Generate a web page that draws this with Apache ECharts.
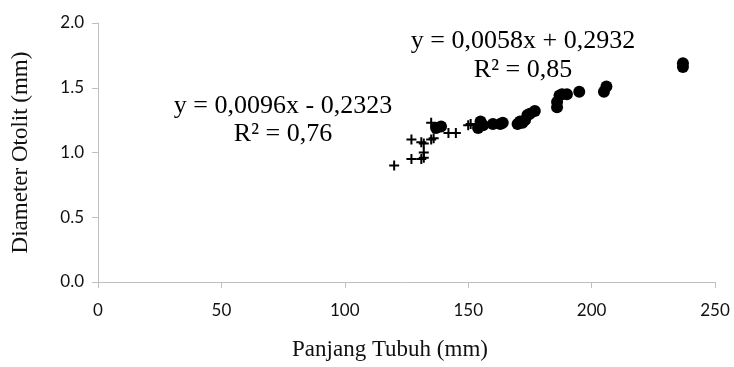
<!DOCTYPE html>
<html lang="id">
<head>
    <meta charset="UTF-8">
    <title>Panjang Tubuh vs Diameter Otolit</title>
    <style>
        html, body { margin: 0; padding: 0; background: #fff; }
        #chart { width: 734px; height: 367px; }
    </style>
</head>
<body>
<div id="chart"></div>
<script src="https://cdn.jsdelivr.net/npm/echarts@6/dist/echarts.min.js"></script>
<script>
    // ikan kecil (tanda +)
    var plusX = [120, 127, 127, 131, 132, 132, 132, 131, 135, 136, 135, 142, 145, 150, 151];
    var plusY = [0.90, 0.95, 1.10, 0.95, 0.96, 1.00, 1.07, 1.08, 1.10, 1.11, 1.23, 1.15, 1.15, 1.21, 1.22];

    // ikan besar (titik bulat)
    var circleX = [137, 139, 154, 155, 156, 160, 163, 164, 170, 171, 172, 173, 174, 175, 177, 186, 186, 187, 188, 190, 195, 205, 206, 237, 237];
    var circleY = [1.19, 1.20, 1.19, 1.24, 1.21, 1.22, 1.22, 1.23, 1.22, 1.24, 1.23, 1.25, 1.29, 1.30, 1.32, 1.35, 1.39, 1.44, 1.45, 1.45, 1.47, 1.47, 1.51, 1.66, 1.69];

    var xTicks = [0, 50, 100, 150, 200, 250];
    var yTicks = [0.0, 0.5, 1.0, 1.5, 2.0];

    var eq1 = ['y = 0,0096x - 0,2323', 'R² = 0,76'];
    var eq2 = ['y = 0,0058x + 0,2932', 'R² = 0,85'];

    function pairs(xs, ys) {
        var out = [];
        for (var i = 0; i < xs.length; i++) {
            out.push([xs[i], ys[i]]);
        }
        return out;
    }

    var serif = '"Liberation Serif", "Times New Roman", serif';
    var sans = 'Lato, "Liberation Sans", sans-serif';
    var axisGrey = '#bfbfbf';

    var chart = echarts.init(document.getElementById('chart'));

    var option = {
        animation: false,
        grid: { left: 98, right: 19, top: 23, bottom: 85, containLabel: false, outerBoundsMode: 'none' },
        xAxis: {
            type: 'value',
            min: xTicks[0],
            max: xTicks[xTicks.length - 1],
            interval: 50,
            axisLine: { show: true, lineStyle: { color: axisGrey, width: 1 } },
            axisTick: { show: true, length: 6, lineStyle: { color: axisGrey } },
            splitLine: { show: false },
            axisLabel: { margin: 20, color: '#111', fontFamily: sans, fontSize: 17 }
        },
        yAxis: {
            type: 'value',
            min: yTicks[0],
            max: yTicks[yTicks.length - 1],
            interval: 0.5,
            name: 'Diameter Otolit (mm)',
            nameLocation: 'middle',
            nameGap: 66,
            nameTextStyle: { fontFamily: serif, fontSize: 23, color: '#111' },
            axisLine: { show: true, lineStyle: { color: axisGrey, width: 1 } },
            axisTick: { show: true, length: 6, lineStyle: { color: axisGrey } },
            splitLine: { show: false },
            axisLabel: {
                margin: 14, color: '#111', fontFamily: sans, fontSize: 17,
                formatter: function (v) { return v.toFixed(1); }
            }
        },
        graphic: [
            { type: 'text', style: { text: 'Panjang Tubuh (mm)', font: '23px ' + serif, fill: '#111', x: 390, y: 350, align: 'center', verticalAlign: 'middle' } },
            { type: 'text', style: { text: eq1[0], font: '26px ' + serif, fill: '#000', x: 283, y: 106, align: 'center', verticalAlign: 'middle' } },
            { type: 'text', style: { text: eq1[1], font: '26px ' + serif, fill: '#000', x: 283, y: 134, align: 'center', verticalAlign: 'middle' } },
            { type: 'text', style: { text: eq2[0], font: '26px ' + serif, fill: '#000', x: 523, y: 41, align: 'center', verticalAlign: 'middle' } },
            { type: 'text', style: { text: eq2[1], font: '26px ' + serif, fill: '#000', x: 523, y: 70, align: 'center', verticalAlign: 'middle' } }
        ],
        series: [{
            name: 'kecil',
            type: 'scatter',
            symbol: 'path://M4,0H6V4H10V6H6V10H4V6H0V4H4Z',
            symbolSize: 10,
            itemStyle: { color: '#000', opacity: 1 },
            data: pairs(plusX, plusY)
        }, {
            name: 'besar',
            type: 'scatter',
            symbol: 'circle',
            symbolSize: 12,
            itemStyle: { color: '#000', opacity: 1 },
            data: pairs(circleX, circleY)
        }]
    };
    chart.setOption(option);
</script>
</body>
</html>
